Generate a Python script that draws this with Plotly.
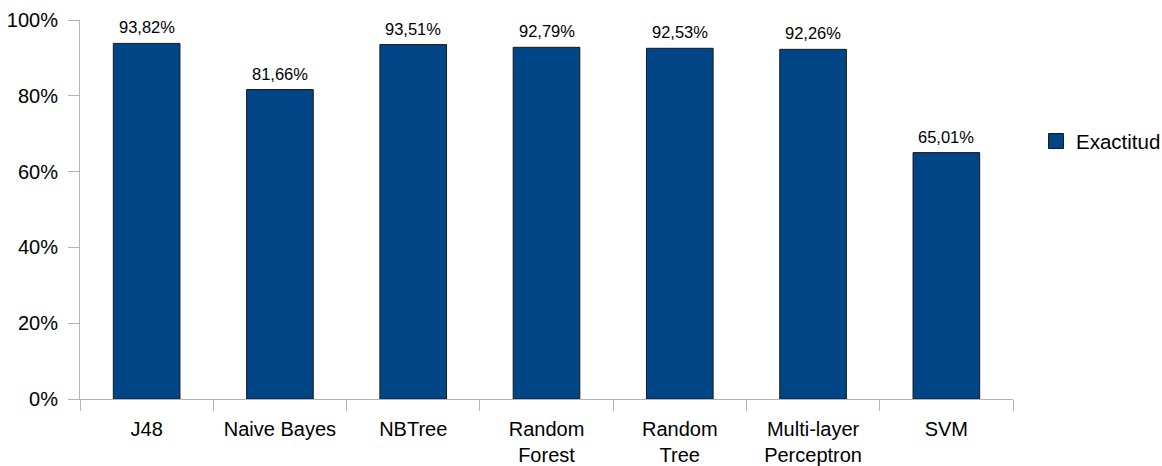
import plotly.graph_objects as go

# Accuracy per classifier (percent)
categories = ["J48", "Naive Bayes", "NBTree", "Random<br>Forest", "Random<br>Tree",
              "Multi-layer<br>Perceptron", "SVM"]
accuracy = [93.82, 81.66, 93.51, 92.79, 92.53, 92.26, 65.01]
y_ticks = [0, 20, 40, 60, 80, 100]
y_tick_labels = ["0%", "20%", "40%", "60%", "80%", "100%"]
series_name = "Exactitud"

BAR_COLOR = "#004586"
AXIS_COLOR = "#b3b3b3"
FONT = "Liberation Sans, Arial, sans-serif"

fig = go.Figure()
fig.add_trace(go.Bar(
    x=categories, y=accuracy, name=series_name,
    marker=dict(color=BAR_COLOR, line=dict(color="#1a1a1a", width=1)),
    showlegend=False,
))
# legend entry with a larger square swatch
fig.add_trace(go.Scatter(
    x=[None], y=[None], mode="markers", name=series_name,
    marker=dict(symbol="square", size=15, color=BAR_COLOR,
                line=dict(color="#1a1a1a", width=1)),
))

# value labels above each bar
for cat, v in zip(categories, accuracy):
    fig.add_annotation(
        x=cat, y=v, text=f"{v:.2f}".replace(".", ",") + "%",
        showarrow=False, yanchor="bottom", yshift=5,
        font=dict(family=FONT, size=16.5, color="#000000"),
    )

fig.update_layout(
    width=1162, height=466,
    margin=dict(l=80, r=149, t=20, b=67, autoexpand=False),
    paper_bgcolor="white", plot_bgcolor="white",
    font=dict(family=FONT, color="#000000"),
    bargap=0.5,
    legend=dict(xref="container", yref="container", x=0.8916, y=0.697,
                xanchor="left", yanchor="middle",
                font=dict(family=FONT, size=20.5, color="#000000"),
                bgcolor="rgba(0,0,0,0)", borderwidth=0),
)
fig.update_xaxes(
    type="category", showgrid=False, showline=True, linecolor=AXIS_COLOR, linewidth=1,
    ticks="outside", tickson="boundaries", ticklen=11, tickcolor=AXIS_COLOR, tickwidth=1,
    tickfont=dict(family=FONT, size=20, color="#000000"),
    ticklabelstandoff=12,
)
fig.update_yaxes(
    range=[0, 100], tickvals=y_ticks, ticktext=y_tick_labels, showgrid=False, zeroline=False,
    showline=True, linecolor=AXIS_COLOR, linewidth=1,
    ticks="outside", ticklen=11, tickcolor=AXIS_COLOR, tickwidth=1,
    tickfont=dict(family=FONT, size=20, color="#000000"),
    ticklabelstandoff=6,
)

fig.write_html("out.html")
